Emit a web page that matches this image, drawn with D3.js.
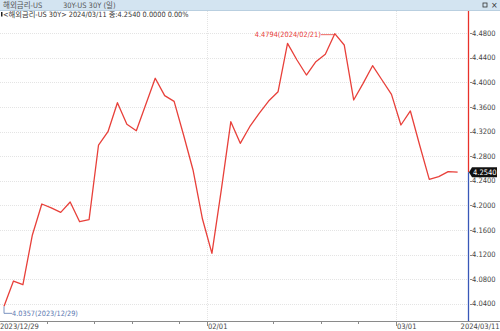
<!DOCTYPE html>
<html>
<head>
<meta charset="utf-8">
<script src="https://cdn.jsdelivr.net/npm/d3@7"></script>
<style>
  html, body { margin: 0; padding: 0; background: #fff; }
  svg { display: block; font-family: "Liberation Sans Narrow", "DejaVu Sans Condensed", "Noto Sans CJK KR", sans-serif; }
</style>
</head>
<body>
<div id="chart"></div>
<script>
// trading days, US 30Y yield
var dates = [
  "2023-12-29",
  "2024-01-02","2024-01-03","2024-01-04","2024-01-05",
  "2024-01-08","2024-01-09","2024-01-10","2024-01-11","2024-01-12",
  "2024-01-16","2024-01-17","2024-01-18","2024-01-19",
  "2024-01-22","2024-01-23","2024-01-24","2024-01-25","2024-01-26",
  "2024-01-29","2024-01-30","2024-01-31","2024-02-01","2024-02-02",
  "2024-02-05","2024-02-06","2024-02-07","2024-02-08","2024-02-09",
  "2024-02-12","2024-02-13","2024-02-14","2024-02-15","2024-02-16",
  "2024-02-20","2024-02-21","2024-02-22","2024-02-23",
  "2024-02-26","2024-02-27","2024-02-28","2024-02-29","2024-03-01",
  "2024-03-04","2024-03-05","2024-03-06","2024-03-07","2024-03-08",
  "2024-03-11"
]
var values = [
  4.0357,
  4.0769, 4.0709, 4.1518, 4.2022,
  4.1960, 4.1887, 4.2055, 4.1734, 4.1767,
  4.2982, 4.3199, 4.3671, 4.3319,
  4.3215, 4.3641, 4.4068, 4.3785, 4.3693,
  4.3145, 4.2576, 4.1778, 4.1220, 4.2260,
  4.3362, 4.3010, 4.3280, 4.3498, 4.3698,
  4.3850, 4.4637, 4.4366, 4.4121, 4.4338,
  4.4458, 4.4794, 4.4610, 4.3715,
  4.3986, 4.4273, 4.4040, 4.3807, 4.3308,
  4.3536, 4.2970, 4.2424, 4.2467, 4.2548,
  4.2540
]
var yTicks = [4.04, 4.08, 4.12, 4.16, 4.20, 4.24, 4.28, 4.32, 4.36, 4.40, 4.44, 4.48]
var monthTicks = [
  {date: "2023-12-29", label: "2023/12/29"},
  {date: "2024-02-01", label: "02/01"},
  {date: "2024-03-01", label: "03/01"}
]
var weekTicks = ["2024-01-08","2024-01-16","2024-01-22","2024-01-29","2024-02-12","2024-02-20","2024-02-26"]
var titleName = "해외금리-US"
var titleItem = "30Y-US 30Y (일)"
var infoLine = "<해외금리-US 30Y> 2024/03/11 종:4.2540 0.0000 0.00%"
var lastLabel = "2024/03/11"

var W = 500, H = 331
var plotRight = 468, axisY = 321

var data = dates.map(function(d, i){ return {date: d, value: values[i]} })

var x = d3.scaleBand()
    .domain(dates)
    .range([-0.7, 462.35])
var xc = function(d){ return x(d) + x.bandwidth() / 2 }

var y = d3.scaleLinear()
    .domain([4.04, 4.48])
    .range([303.7, 33.3])

var svg = d3.select("#chart").append("svg")
    .attr("width", W)
    .attr("height", H)

// header bar
svg.append("rect").attr("x", 0).attr("y", 0).attr("width", W).attr("height", 10)
    .attr("fill", "#d3e4f1")
svg.append("line").attr("x1", 0).attr("x2", W).attr("y1", 10.5).attr("y2", 10.5)
    .attr("stroke", "#b9cfe0")
svg.append("text").attr("x", 3).attr("y", 8).attr("font-size", 7.5).attr("fill", "#555")
    .text(titleName)
svg.append("text").attr("x", 63).attr("y", 8).attr("font-size", 7.5).attr("fill", "#555")
    .text(titleItem)
svg.append("rect").attr("x", 483).attr("y", 3).attr("width", 4).attr("height", 4)
    .attr("fill", "none").attr("stroke", "#333").attr("stroke-width", 0.8)
svg.append("text").attr("x", 491).attr("y", 8).attr("font-size", 8).attr("fill", "#333")
    .attr("font-family", "DejaVu Sans").text("×")

// info line
svg.append("rect").attr("x", 1).attr("y", 12).attr("width", 1.5).attr("height", 4.5).attr("fill", "#222")
svg.append("text").attr("x", 3).attr("y", 17).attr("font-size", 7.3).attr("fill", "#333")
    .text(infoLine)

// grid
var g = svg.append("g")

g.selectAll(".hgrid").data(yTicks).enter().append("line")
    .attr("x1", 0).attr("x2", plotRight)
    .attr("y1", function(d){ return Math.round(y(d)) + 0.5 })
    .attr("y2", function(d){ return Math.round(y(d)) + 0.5 })
    .attr("stroke", "#e4e4e4")
    .attr("stroke-dasharray", "1,1")

g.selectAll(".vgrid").data(monthTicks.slice(1)).enter().append("line")
    .attr("x1", function(d){ return Math.round(x(d.date)) + 0.5 })
    .attr("x2", function(d){ return Math.round(x(d.date)) + 0.5 })
    .attr("y1", 11).attr("y2", axisY)
    .attr("stroke", "#e4e4e4")
    .attr("stroke-dasharray", "1,1")

// bottom axis
svg.append("line").attr("x1", 0).attr("x2", W).attr("y1", axisY + 0.5).attr("y2", axisY + 0.5)
    .attr("stroke", "#8a8a8a")

svg.selectAll(".wtick").data(weekTicks).enter().append("line")
    .attr("x1", function(d){ return Math.round(x(d)) + 0.5 })
    .attr("x2", function(d){ return Math.round(x(d)) + 0.5 })
    .attr("y1", axisY).attr("y2", axisY + 3)
    .attr("stroke", "#8a8a8a")

svg.selectAll(".mtick").data(monthTicks.slice(1)).enter().append("line")
    .attr("x1", function(d){ return Math.round(x(d.date)) + 0.5 })
    .attr("x2", function(d){ return Math.round(x(d.date)) + 0.5 })
    .attr("y1", axisY).attr("y2", axisY + 5)
    .attr("stroke", "#8a8a8a")

svg.selectAll(".mlabel").data(monthTicks).enter().append("text")
    .attr("x", function(d){ return Math.max(0, Math.round(x(d.date)) + 1) })
    .attr("y", 329)
    .attr("font-size", 7.5)
    .attr("fill", "#444")
    .text(function(d){ return d.label })

svg.append("text").attr("x", W - 0.5).attr("y", 329).attr("font-size", 7.5).attr("fill", "#444")
    .attr("text-anchor", "end")
    .text(lastLabel)

// right axis
var yAxis = svg.append("g")
yAxis.selectAll("line").data(yTicks).enter().append("line")
    .attr("x1", plotRight + 2).attr("x2", plotRight + 4)
    .attr("y1", function(d){ return Math.round(y(d)) + 0.5 })
    .attr("y2", function(d){ return Math.round(y(d)) + 0.5 })
    .attr("stroke", "#888")
yAxis.selectAll("text").data(yTicks).enter().append("text")
    .attr("x", plotRight + 4)
    .attr("y", function(d){ return y(d) + 2.6 })
    .attr("font-size", 7.5)
    .attr("fill", "#444")
    .text(function(d){ return d3.format(".4f")(d) })

// current value marker line
var last = data[data.length - 1]
svg.append("line").attr("x1", plotRight + 0.5).attr("x2", plotRight + 0.5)
    .attr("y1", 11).attr("y2", y(last.value))
    .attr("stroke", "#e8312a").attr("stroke-width", 1.3)
svg.append("line").attr("x1", plotRight + 0.5).attr("x2", plotRight + 0.5)
    .attr("y1", y(last.value)).attr("y2", axisY)
    .attr("stroke", "#3957b8").attr("stroke-width", 1.3)

// price line
var line = d3.line()
    .x(function(d){ return xc(d.date) })
    .y(function(d){ return y(d.value) })

svg.append("path")
    .datum(data)
    .attr("fill", "none")
    .attr("stroke", "#e8403a")
    .attr("stroke-width", 1.3)
    .attr("stroke-linejoin", "round")
    .attr("d", line)

// max / min annotations
var maxD = data.reduce(function(a, b){ return b.value > a.value ? b : a })
var minD = data.reduce(function(a, b){ return b.value < a.value ? b : a })
var fmtDate = function(s){ return s.replace(/-/g, "/") }

svg.append("line")
    .attr("x1", xc(maxD.date) - 14).attr("x2", xc(maxD.date))
    .attr("y1", y(maxD.value) + 1).attr("y2", y(maxD.value) + 1)
    .attr("stroke", "#e8403a").attr("stroke-width", 0.8)
svg.append("text")
    .attr("x", xc(maxD.date) - 14).attr("y", y(maxD.value) + 3.5)
    .attr("text-anchor", "end")
    .attr("font-size", 7.3)
    .attr("fill", "#e8403a")
    .text(d3.format(".4f")(maxD.value) + "(" + fmtDate(maxD.date) + ")")

svg.append("path")
    .attr("d", "M" + xc(minD.date) + "," + y(minD.value) + "V" + (y(minD.value) + 7) + "H" + (xc(minD.date) + 8))
    .attr("fill", "none")
    .attr("stroke", "#5a78b0").attr("stroke-width", 0.8)
svg.append("text")
    .attr("x", xc(minD.date) + 8).attr("y", y(minD.value) + 9.5)
    .attr("font-size", 7.3)
    .attr("fill", "#5a78b0")
    .text(d3.format(".4f")(minD.value) + "(" + fmtDate(minD.date) + ")")

// current value box
var cy = y(last.value)
svg.append("path")
    .attr("d", "M" + (plotRight + 1) + "," + cy + "L" + (plotRight + 4) + "," + (cy - 5) + "H497V" + (cy + 5) + "H" + (plotRight + 4) + "Z")
    .attr("fill", "#111")
svg.append("text")
    .attr("x", plotRight + 5).attr("y", cy + 2.7)
    .attr("font-size", 7.5)
    .attr("fill", "#fff")
    .text(d3.format(".4f")(last.value))
</script>
</body>
</html>
